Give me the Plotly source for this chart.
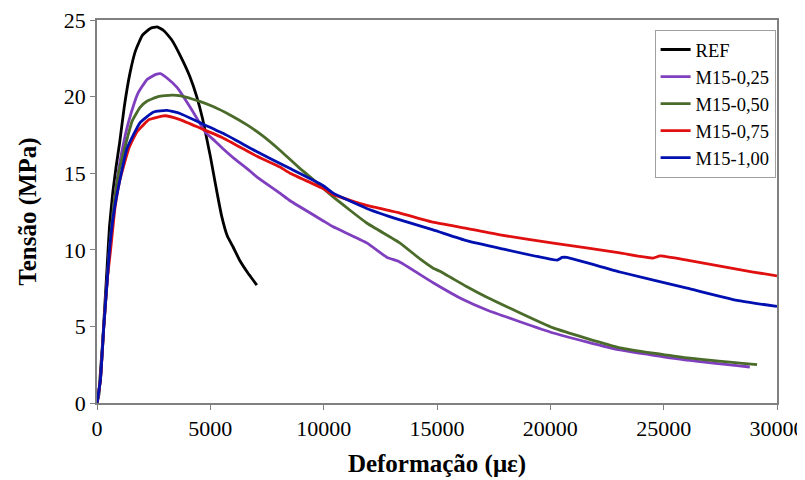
import plotly.graph_objects as go

# ---- data (strain in microstrain, stress in MPa) ----
ref_x = [0, 80, 150, 250, 350, 450, 550, 700, 850, 1000, 1200, 1450, 1700, 2000, 2350, 2650,
         2950, 3300, 3700, 4100, 4400, 4650, 4850, 5000, 5150, 5300, 5500, 5750, 6000, 6300, 6650, 7050]
ref_y = [0, 0.5, 2.0, 4.0, 6.5, 9.0, 11.5, 13.8, 15.5, 17.0, 19.3, 21.5, 23.0, 24.0, 24.45, 24.55,
         24.3, 23.7, 22.6, 21.3, 20.0, 18.6, 17.2, 16.1, 14.9, 13.7, 12.2, 10.9, 10.2, 9.3, 8.5, 7.7]

m025_x = [0, 150, 300, 450, 550, 750, 950, 1250, 1500, 1800, 2200, 2600, 2800, 3100, 3530, 3900,
          4320, 4770, 5200, 5560, 6100, 6620, 7060, 8070, 8520, 9970, 10420, 11900, 12800, 13000,
          13300, 14830, 16150, 17200, 20130, 23070, 26030, 28800]
m025_y = [0, 1.5, 5.0, 8.0, 10.0, 13.0, 15.2, 17.5, 18.9, 20.2, 21.1, 21.45, 21.5, 21.2, 20.6, 19.8,
          18.8, 17.7, 17.1, 16.6, 15.9, 15.3, 14.75, 13.7, 13.2, 11.9, 11.5, 10.45, 9.5, 9.4,
          9.25, 7.85, 6.75, 6.07, 4.57, 3.46, 2.8, 2.35]

m050_x = [0, 150, 300, 450, 550, 750, 950, 1250, 1550, 1900, 2200, 2700, 3300, 3700, 4500, 5120,
          5870, 6620, 7300, 8070, 8960, 9530, 10420, 11900, 13370, 14250, 14830, 15130, 16300,
          17200, 20130, 23070, 26030, 29120]
m050_y = [0, 1.5, 5.0, 8.0, 10.0, 13.0, 15.0, 16.8, 18.4, 19.3, 19.7, 20.0, 20.1, 20.05, 19.7, 19.35,
          18.8, 18.15, 17.45, 16.5, 15.3, 14.6, 13.45, 11.75, 10.44, 9.4, 8.8, 8.6, 7.6,
          6.9, 4.9, 3.6, 2.94, 2.5]

m075_x = [0, 150, 300, 450, 600, 800, 1000, 1400, 1760, 2300, 3000, 3660, 4540, 5560, 7060, 8070,
          8520, 9970, 10420, 11900, 13370, 14830, 16300, 17780, 20130, 23070, 24530, 24840, 26030,
          28950, 30000]
m075_y = [0, 1.5, 5.0, 8.0, 10.0, 12.8, 14.5, 16.6, 17.7, 18.5, 18.75, 18.5, 17.95, 17.3, 16.1, 15.4,
          15.0, 14.0, 13.6, 12.9, 12.4, 11.8, 11.4, 10.97, 10.44, 9.8, 9.46, 9.6, 9.33,
          8.55, 8.3]

m100_x = [0, 150, 300, 450, 550, 750, 1000, 1320, 1900, 2500, 3090, 3660, 4540, 5560, 7060, 8520,
          9970, 10420, 11900, 13370, 14830, 16300, 17780, 20300, 20520, 20730, 23070, 26030, 28240, 30000]
m100_y = [0, 1.5, 5.0, 8.0, 10.0, 12.5, 14.5, 16.6, 18.3, 19.0, 19.1, 18.9, 18.3, 17.6, 16.4, 15.3,
          14.2, 13.7, 12.7, 11.95, 11.3, 10.6, 10.1, 9.33, 9.5, 9.5, 8.55, 7.5, 6.7, 6.3]

names = ["REF", "M15-0,25", "M15-0,50", "M15-0,75", "M15-1,00"]
colors = ["#000000", "#7F3FBF", "#4A6B2A", "#E01010", "#0010B0"]
series = [(ref_x, ref_y), (m025_x, m025_y), (m050_x, m050_y), (m075_x, m075_y), (m100_x, m100_y)]

FONT = "Liberation Serif"

fig = go.Figure()
for (xs, ys), n, c in zip(series, names, colors):
    fig.add_trace(go.Scatter(x=xs, y=ys, mode="lines", name=n,
                             line=dict(color=c, width=2.8, shape="spline", smoothing=0.4)))

axis_common = dict(showline=True, linecolor="#808080", linewidth=1.5, mirror=True,
                   ticks="outside", ticklen=5, tickcolor="#808080", tickwidth=1.2,
                   showgrid=False, zeroline=False, automargin=False,
                   ticklabeloverflow="allow",
                   tickfont=dict(family=FONT, size=22, color="#000000"))

# page body has an 8px margin, so the figure is sized to fit the 805x480 window
fig.update_layout(
    width=797, height=472,
    margin=dict(l=89, r=28, t=12, b=77),
    paper_bgcolor="white", plot_bgcolor="white",
    font=dict(family=FONT, color="#000000"),
    xaxis=dict(range=[0, 30000], dtick=5000, tickformat="d",
               title=dict(text="<b>Deformação (με)</b>", font=dict(family=FONT, size=25), standoff=14),
               **axis_common),
    yaxis=dict(range=[0, 25], dtick=5,
               title=dict(text="<b>Tensão (MPa)</b>", font=dict(family=FONT, size=25), standoff=20),
               **axis_common),
    legend=dict(x=0.82, y=0.974, xanchor="left", yanchor="top",
                bordercolor="#A0A0A0", borderwidth=1, bgcolor="white",
                font=dict(family=FONT, size=18.5), tracegroupgap=0,
                itemwidth=30),
    showlegend=True,
)

fig.write_html("out.html")
